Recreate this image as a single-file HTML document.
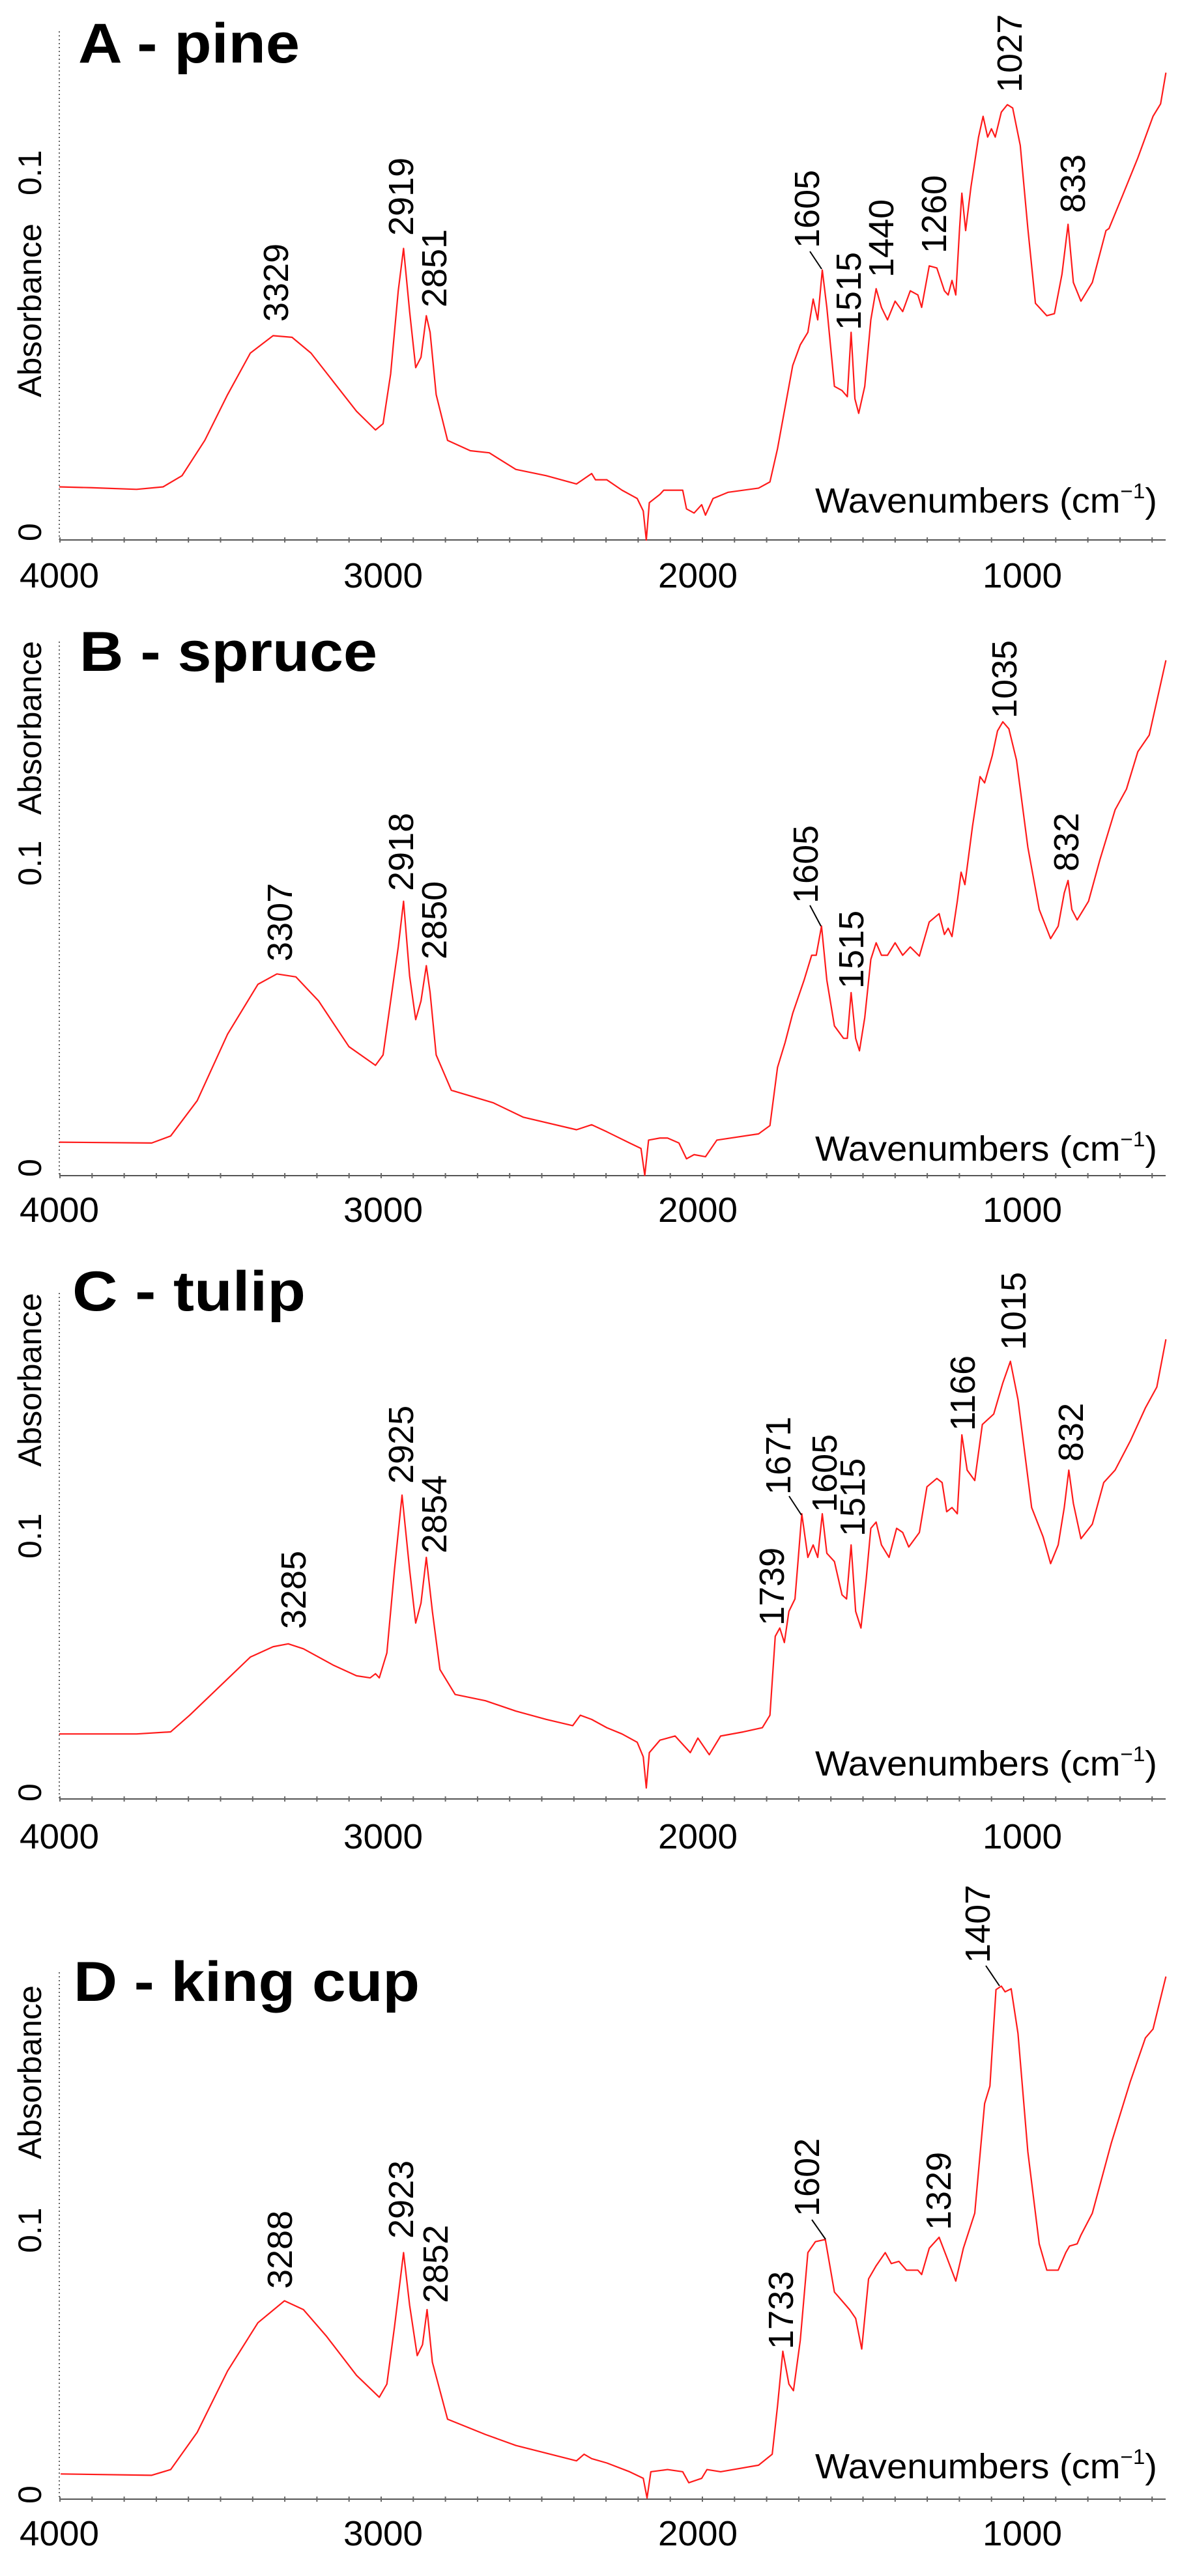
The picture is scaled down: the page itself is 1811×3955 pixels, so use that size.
<!DOCTYPE html>
<html><head><meta charset="utf-8"><style>
html,body{margin:0;padding:0;background:#fff;}
svg{display:block;}
.t{font-family:"Liberation Sans Narrow","Liberation Sans",sans-serif;font-weight:bold;font-size:86px;fill:#000;}
.p{font-family:"Liberation Sans",sans-serif;font-size:54px;fill:#000;}
.y{font-family:"Liberation Sans",sans-serif;font-size:50px;fill:#000;}
.x{font-family:"Liberation Sans Narrow","Liberation Sans",sans-serif;font-size:54px;fill:#000;}
.s{fill:none;stroke:#ff1a1a;stroke-width:2.2;stroke-linejoin:round;}
.ax{stroke:#555;stroke-width:2;}
.dy{stroke:#666;stroke-width:2;stroke-dasharray:2 4;}
.ld{stroke:#000;stroke-width:2;}
</style></head><body>
<svg width="1811" height="3955" viewBox="0 0 1811 3955" xmlns="http://www.w3.org/2000/svg">
<defs>
<pattern id="tk" x="91" y="0" width="49.3" height="10" patternUnits="userSpaceOnUse"><rect x="0" y="0" width="2" height="10" fill="#666"/></pattern>
</defs>

<!-- ===== Panel A ===== -->
<line class="dy" x1="91" y1="48" x2="91" y2="829"/>
<line class="ax" x1="91" y1="829" x2="1789" y2="829"/>
<rect x="91" y="825" width="1698" height="8" fill="url(#tk)"/>
<text class="t" x="120" y="96" textLength="340" lengthAdjust="spacingAndGlyphs">A - pine</text>
<text class="y" transform="translate(63,300) rotate(-90)">0.1</text>
<text class="y" transform="translate(63,831) rotate(-90)">0</text>
<text class="y" transform="translate(63,610) rotate(-90)">Absorbance</text>
<g class="x" text-anchor="middle"><text x="91" y="902" textLength="122" lengthAdjust="spacingAndGlyphs">4000</text><text x="588" y="902" textLength="122" lengthAdjust="spacingAndGlyphs">3000</text><text x="1071" y="902" textLength="122" lengthAdjust="spacingAndGlyphs">2000</text><text x="1569" y="902" textLength="122" lengthAdjust="spacingAndGlyphs">1000</text></g>
<text class="x" x="1251" y="787" textLength="525" lengthAdjust="spacingAndGlyphs">Wavenumbers (cm<tspan font-size="32" dy="-22">−1</tspan><tspan dy="22">)</tspan></text>
<g transform="translate(0,0) scale(1.1642,0.6378)"><polyline class="s" vector-effect="non-scaling-stroke" points="78,1172 120,1174 180,1178 215,1172 240,1145 270,1060 300,950 330,850 360,808 385,812 410,850 440,920 470,990 495,1035 505,1020 515,900 525,700 532,598 540,750 548,885 555,860 562,760 567,800 575,950 590,1060 620,1085 645,1090 680,1130 720,1145 760,1165 780,1140 785,1155 800,1155 820,1180 840,1200 848,1230 852,1300 856,1210 870,1190 875,1180 900,1180 905,1225 915,1235 925,1215 930,1240 940,1200 960,1185 1000,1175 1015,1160 1025,1080 1035,980 1045,880 1055,830 1065,800 1072,720 1078,770 1084,650 1090,740 1100,930 1110,940 1117,955 1122,800 1127,960 1132,995 1140,930 1148,770 1155,695 1162,740 1170,770 1180,725 1190,750 1200,700 1210,710 1215,740 1225,640 1235,645 1245,700 1250,710 1255,675 1260,710 1265,550 1268,465 1273,555 1280,450 1290,330 1296,280 1302,330 1307,310 1312,330 1320,270 1328,252 1335,260 1345,350 1355,550 1365,730 1380,760 1390,755 1400,660 1408,540 1415,680 1425,725 1440,680 1458,555 1462,550 1480,470 1500,380 1520,280 1530,250 1537,175"/></g>
<g class="p">
<text transform="translate(442,494) rotate(-90)">3329</text>
<text transform="translate(634,362) rotate(-90)">2919</text>
<text transform="translate(685,472) rotate(-90)">2851</text>
<text transform="translate(1257,381) rotate(-90)">1605</text>
<text transform="translate(1321,507) rotate(-90)">1515</text>
<text transform="translate(1371,426) rotate(-90)">1440</text>
<text transform="translate(1452,389) rotate(-90)">1260</text>
<text transform="translate(1568,142) rotate(-90)">1027</text>
<text transform="translate(1665,327) rotate(-90)">833</text>
</g>
<line class="ld" x1="1243" y1="386" x2="1261" y2="413"/>

<!-- ===== Panel B ===== -->
<line class="dy" x1="91" y1="985" x2="91" y2="1805"/>
<line class="ax" x1="91" y1="1805" x2="1789" y2="1805"/>
<rect x="91" y="1801" width="1698" height="8" fill="url(#tk)"/>
<text class="t" x="122" y="1030" textLength="457" lengthAdjust="spacingAndGlyphs">B - spruce</text>
<text class="y" transform="translate(63,1360) rotate(-90)">0.1</text>
<text class="y" transform="translate(63,1807) rotate(-90)">0</text>
<text class="y" transform="translate(63,1251) rotate(-90)">Absorbance</text>
<g class="x" text-anchor="middle"><text x="91" y="1876" textLength="122" lengthAdjust="spacingAndGlyphs">4000</text><text x="588" y="1876" textLength="122" lengthAdjust="spacingAndGlyphs">3000</text><text x="1071" y="1876" textLength="122" lengthAdjust="spacingAndGlyphs">2000</text><text x="1569" y="1876" textLength="122" lengthAdjust="spacingAndGlyphs">1000</text></g>
<text class="x" x="1251" y="1782" textLength="525" lengthAdjust="spacingAndGlyphs">Wavenumbers (cm<tspan font-size="32" dy="-22">−1</tspan><tspan dy="22">)</tspan></text>
<g transform="translate(0,950) scale(1.1642,0.6378)"><polyline class="s" vector-effect="non-scaling-stroke" points="78,1260 200,1262 225,1245 260,1160 300,1000 340,880 365,855 390,862 420,920 460,1030 495,1075 505,1050 515,920 525,790 532,680 540,860 548,965 555,920 562,835 567,900 575,1050 595,1135 650,1165 690,1200 760,1230 780,1218 800,1235 830,1262 845,1275 850,1340 855,1255 870,1250 880,1250 895,1262 905,1300 915,1290 930,1295 945,1255 1000,1240 1015,1220 1025,1080 1035,1020 1045,950 1060,870 1070,810 1076,810 1083,740 1090,870 1100,980 1112,1010 1117,1010 1122,900 1128,1010 1133,1040 1140,960 1148,820 1155,780 1162,810 1170,810 1180,780 1190,810 1200,790 1212,812 1225,730 1238,710 1245,760 1250,745 1255,765 1262,680 1267,610 1272,640 1282,500 1292,380 1298,395 1308,330 1315,270 1322,248 1330,265 1340,340 1355,550 1370,700 1385,770 1395,740 1403,660 1408,630 1413,700 1420,725 1435,680 1450,580 1455,550 1470,460 1485,410 1500,320 1515,280 1537,100"/></g>
<g class="p">
<text transform="translate(448,1476) rotate(-90)">3307</text>
<text transform="translate(634,1368) rotate(-90)">2918</text>
<text transform="translate(685,1473) rotate(-90)">2850</text>
<text transform="translate(1255,1387) rotate(-90)">1605</text>
<text transform="translate(1325,1518) rotate(-90)">1515</text>
<text transform="translate(1560,1103) rotate(-90)">1035</text>
<text transform="translate(1655,1338) rotate(-90)">832</text>
</g>
<line class="ld" x1="1243" y1="1390" x2="1260" y2="1422"/>

<!-- ===== Panel C ===== -->
<line class="dy" x1="91" y1="1985" x2="91" y2="2762"/>
<line class="ax" x1="91" y1="2762" x2="1789" y2="2762"/>
<rect x="91" y="2758" width="1698" height="8" fill="url(#tk)"/>
<text class="t" x="111" y="2012" textLength="358" lengthAdjust="spacingAndGlyphs">C - tulip</text>
<text class="y" transform="translate(63,2393) rotate(-90)">0.1</text>
<text class="y" transform="translate(63,2766) rotate(-90)">0</text>
<text class="y" transform="translate(63,2252) rotate(-90)">Absorbance</text>
<g class="x" text-anchor="middle"><text x="91" y="2838" textLength="122" lengthAdjust="spacingAndGlyphs">4000</text><text x="588" y="2838" textLength="122" lengthAdjust="spacingAndGlyphs">3000</text><text x="1071" y="2838" textLength="122" lengthAdjust="spacingAndGlyphs">2000</text><text x="1569" y="2838" textLength="122" lengthAdjust="spacingAndGlyphs">1000</text></g>
<text class="x" x="1251" y="2726" textLength="525" lengthAdjust="spacingAndGlyphs">Wavenumbers (cm<tspan font-size="32" dy="-22">−1</tspan><tspan dy="22">)</tspan></text>
<g transform="translate(0,1900) scale(1.1642,0.6378)"><polyline class="s" vector-effect="non-scaling-stroke" points="78,1195 180,1195 225,1190 250,1150 290,1080 330,1010 360,985 380,978 400,990 440,1030 470,1055 488,1060 495,1050 500,1060 510,1000 520,800 530,620 540,800 548,928 555,880 562,770 570,900 580,1040 600,1100 640,1115 680,1140 720,1160 755,1175 765,1150 780,1160 800,1180 820,1195 840,1215 848,1250 852,1325 856,1240 870,1210 890,1200 910,1240 920,1205 935,1245 950,1200 980,1190 1005,1180 1015,1150 1022,960 1028,940 1034,975 1040,900 1048,870 1052,780 1057,665 1065,770 1072,740 1078,770 1084,665 1090,760 1100,780 1110,860 1116,870 1122,740 1128,900 1135,940 1142,820 1148,700 1155,685 1162,740 1172,770 1182,700 1190,710 1198,745 1212,710 1222,600 1235,580 1242,590 1248,660 1255,650 1262,665 1268,475 1275,560 1285,585 1295,450 1310,425 1322,350 1332,298 1342,390 1360,650 1375,720 1385,785 1395,740 1403,650 1409,560 1415,640 1425,725 1440,690 1455,590 1470,560 1490,490 1510,410 1525,360 1537,245"/></g>
<g class="p">
<text transform="translate(469,2501) rotate(-90)">3285</text>
<text transform="translate(634,2278) rotate(-90)">2925</text>
<text transform="translate(685,2385) rotate(-90)">2854</text>
<text transform="translate(1203,2496) rotate(-90)">1739</text>
<text transform="translate(1213,2295) rotate(-90)">1671</text>
<text transform="translate(1284,2322) rotate(-90)">1605</text>
<text transform="translate(1327,2359) rotate(-90)">1515</text>
<text transform="translate(1496,2197) rotate(-90)">1166</text>
<text transform="translate(1574,2073) rotate(-90)">1015</text>
<text transform="translate(1662,2244) rotate(-90)">832</text>
</g>
<line class="ld" x1="1211" y1="2297" x2="1230" y2="2326"/>

<!-- ===== Panel D ===== -->
<line class="dy" x1="91" y1="3028" x2="91" y2="3837"/>
<line class="ax" x1="91" y1="3837" x2="1789" y2="3837"/>
<rect x="91" y="3833" width="1698" height="8" fill="url(#tk)"/>
<text class="t" x="113" y="3072" textLength="531" lengthAdjust="spacingAndGlyphs">D - king cup</text>
<text class="y" transform="translate(63,3459) rotate(-90)">0.1</text>
<text class="y" transform="translate(63,3844) rotate(-90)">0</text>
<text class="y" transform="translate(63,3315) rotate(-90)">Absorbance</text>
<g class="x" text-anchor="middle"><text x="91" y="3908" textLength="122" lengthAdjust="spacingAndGlyphs">4000</text><text x="588" y="3908" textLength="122" lengthAdjust="spacingAndGlyphs">3000</text><text x="1071" y="3908" textLength="122" lengthAdjust="spacingAndGlyphs">2000</text><text x="1569" y="3908" textLength="122" lengthAdjust="spacingAndGlyphs">1000</text></g>
<text class="x" x="1251" y="3805" textLength="525" lengthAdjust="spacingAndGlyphs">Wavenumbers (cm<tspan font-size="32" dy="-22">−1</tspan><tspan dy="22">)</tspan></text>
<g transform="translate(0,2900) scale(1.1642,0.6729)"><polyline class="s" vector-effect="non-scaling-stroke" points="80,1335 200,1338 225,1325 260,1240 300,1100 340,990 375,940 400,960 430,1020 470,1110 500,1160 510,1130 520,1000 532,830 540,950 550,1065 557,1040 563,960 570,1080 590,1210 640,1245 680,1270 760,1305 770,1290 780,1300 800,1310 830,1330 848,1345 853,1390 858,1330 880,1325 900,1330 908,1355 925,1345 932,1325 950,1330 1000,1315 1018,1290 1025,1180 1032,1055 1040,1130 1046,1145 1055,1030 1065,830 1075,805 1088,800 1100,920 1110,940 1120,960 1128,980 1136,1050 1145,890 1155,860 1167,830 1175,855 1185,850 1195,870 1210,870 1215,880 1225,820 1238,795 1248,840 1260,895 1270,820 1285,740 1298,490 1305,450 1313,230 1320,222 1325,235 1333,228 1342,330 1355,600 1370,810 1380,870 1395,870 1405,830 1410,815 1420,810 1425,790 1440,740 1465,580 1490,440 1510,340 1520,320 1537,200"/></g>
<g class="p">
<text transform="translate(448,3514) rotate(-90)">3288</text>
<text transform="translate(634,3437) rotate(-90)">2923</text>
<text transform="translate(687,3536) rotate(-90)">2852</text>
<text transform="translate(1217,3607) rotate(-90)">1733</text>
<text transform="translate(1257,3403) rotate(-90)">1602</text>
<text transform="translate(1459,3424) rotate(-90)">1329</text>
<text transform="translate(1519,3014) rotate(-90)">1407</text>
</g>
<line class="ld" x1="1246" y1="3408" x2="1267" y2="3438"/>
<line class="ld" x1="1513" y1="3018" x2="1534" y2="3049"/>
</svg>
</body></html>
